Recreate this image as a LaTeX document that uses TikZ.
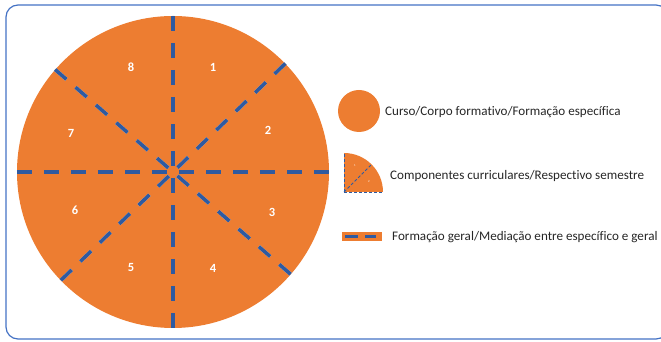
\documentclass[tikz,border=0pt]{standalone}
\usepackage{fontspec}
\setmainfont{Carlito}[Ligatures={NoCommon,TeX}]
\definecolor{pieorange}{HTML}{ED7D31}
\definecolor{dashblue}{HTML}{2F5AA0}
\definecolor{framblue}{HTML}{4472C4}
\definecolor{shadowc}{HTML}{D5DAE4}
\definecolor{txt}{HTML}{262626}
\begin{document}
\begin{tikzpicture}[x=1pt,y=1pt,
  sep/.style={draw=dashblue, line width=3.6pt, dash pattern=on 15pt off 12pt},
  sepshadow/.style={draw=shadowc, line width=3.6pt, dash pattern=on 15pt off 12pt, xshift=-1.2pt, yshift=-1.2pt},
  num/.style={text=white, font=\fontsize{12.5}{13}\selectfont\bfseries},
  legtext/.style={text=txt, anchor=west, inner sep=0pt, font=\fontsize{13.1}{15}\selectfont},
  minisep/.style={draw=dashblue, line width=0.9pt, dash pattern=on 3pt off 2pt}]
\useasboundingbox (0,0) rectangle (661,342);
% frame
\draw[framblue, line width=1.2pt, rounded corners=12pt] (6,3) rectangle (668,337);
% pie
\node[circle, fill=pieorange, minimum size=312pt, inner sep=0pt] (pie) at (173,170) {};
\foreach \a/\b in {north/south, west/east, 139/-41, 44/224}{
  \draw[sepshadow] (pie.\a) -- (pie.\b);
  \draw[sep] (pie.\a) -- (pie.\b);
}
\node[num] (n1) at (213,275) {1};
\node[num] (n2) at (268,212) {2};
\node[num] (n3) at (272,130) {3};
\node[num] (n4) at (213,74) {4};
\node[num] (n5) at (131,75) {5};
\node[num] (n6) at (75,132) {6};
\node[num] (n7) at (71,209) {7};
\node[num] (n8) at (131,275) {8};
% legend 1
\node[circle, fill=pieorange, minimum size=42pt, inner sep=0pt] (lc) at (359,231) {};
\node[legtext] (t1) at (385,230) {Curso/Corpo formativo/Formação específica};
% legend 2
\coordinate (qc) at (344,150);
\fill[pieorange] (qc) -- (344,189) arc[start angle=90, end angle=0, radius=39pt] -- cycle;
\coordinate (qt) at (344,189);
\coordinate (qr) at (383,150);
\coordinate (qd) at (371.6,177.6);
\draw[minisep] (qc) -- (qt);
\draw[minisep] (qc) -- (qr);
\draw[minisep] (qc) -- (qd);
\node[text=white, font=\fontsize{3}{3}\selectfont, inner sep=0pt] (q1) at (355,176) {1};
\node[text=white, font=\fontsize{3}{3}\selectfont, inner sep=0pt] (q2) at (369,160) {2};
\node[legtext] (t2) at (390,166) {Componentes curriculares/Respectivo semestre};
% legend 3
\node[fill=pieorange, minimum width=40pt, minimum height=9pt, inner sep=0pt] (lr) at (362,105.5) {};
\coordinate (d1a) at (345,105.5);
\coordinate (d1b) at (358,105.5);
\coordinate (d2a) at (365,105.5);
\coordinate (d2b) at (376,105.5);
\draw[shadowc, line width=2.6pt, yshift=-0.8pt] (d1a) -- (d1b) (d2a) -- (d2b);
\draw[dashblue, line width=2.6pt] (d1a) -- (d1b) (d2a) -- (d2b);
\node[legtext] (t3) at (392,105) {Formação geral/Mediação entre específico e geral};
\end{tikzpicture}
\end{document}
